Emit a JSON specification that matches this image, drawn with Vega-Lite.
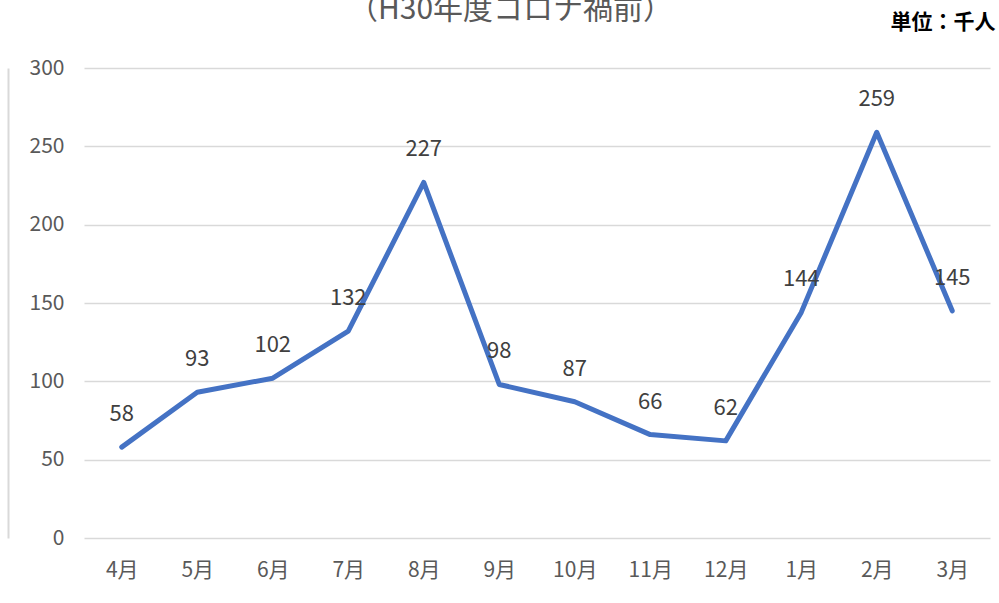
{
  "$schema": "https://vega.github.io/schema/vega-lite/v6.json",
  "width": 906,
  "height": 470,
  "autosize": {"type": "none"},
  "padding": {"left": 84, "top": 68, "right": 9, "bottom": 65},
  "background": "white",
  "config": {"view": {"stroke": null}, "font": "Noto Sans CJK JP"},
  "data": {
    "values": [
      {"month": "4月", "value": 58},
      {"month": "5月", "value": 93},
      {"month": "6月", "value": 102},
      {"month": "7月", "value": 132},
      {"month": "8月", "value": 227},
      {"month": "9月", "value": 98},
      {"month": "10月", "value": 87},
      {"month": "11月", "value": 66},
      {"month": "12月", "value": 62},
      {"month": "1月", "value": 144},
      {"month": "2月", "value": 259},
      {"month": "3月", "value": 145}
    ]
  },
  "encoding": {
    "x": {
      "field": "month",
      "type": "ordinal",
      "sort": null,
      "scale": {"type": "point", "padding": 0.5},
      "axis": {
        "labelAngle": 0,
        "labelFontSize": 21,
        "labelColor": "#595959",
        "labelPadding": 21,
        "ticks": false,
        "domain": false,
        "grid": false,
        "title": "単位：千人",
        "titleAngle": 0,
        "titleAlign": "right",
        "titleBaseline": "middle",
        "titleX": 911,
        "titleY": -516,
        "titleFontSize": 21,
        "titleFontWeight": "bold",
        "titleColor": "#000000"
      }
    },
    "y": {
      "field": "value",
      "type": "quantitative",
      "scale": {"domain": [0, 300]},
      "axis": {
        "values": [0, 50, 100, 150, 200, 250, 300],
        "offset": 76,
        "domain": true,
        "domainColor": "#d9d9d9",
        "domainWidth": 2,
        "ticks": false,
        "labelAlign": "right",
        "labelPadding": -56,
        "labelFontSize": 21,
        "labelColor": "#595959",
        "grid": true,
        "gridColor": "#d9d9d9",
        "gridWidth": 1.5,
        "title": "（H30年度コロナ禍前）",
        "titleAngle": 0,
        "titleAlign": "center",
        "titleBaseline": "alphabetic",
        "titleX": 502,
        "titleY": -50,
        "titleFontSize": 30,
        "titleFontWeight": "normal",
        "titleColor": "#595959"
      }
    }
  },
  "layer": [
    {
      "mark": {"type": "line", "color": "#4472C4", "strokeWidth": 5, "strokeJoin": "round", "strokeCap": "round"}
    },
    {
      "mark": {"type": "text", "baseline": "middle", "dy": -33, "fontSize": 22, "color": "#404040"},
      "encoding": {"text": {"field": "value", "type": "quantitative"}}
    }
  ]
}
